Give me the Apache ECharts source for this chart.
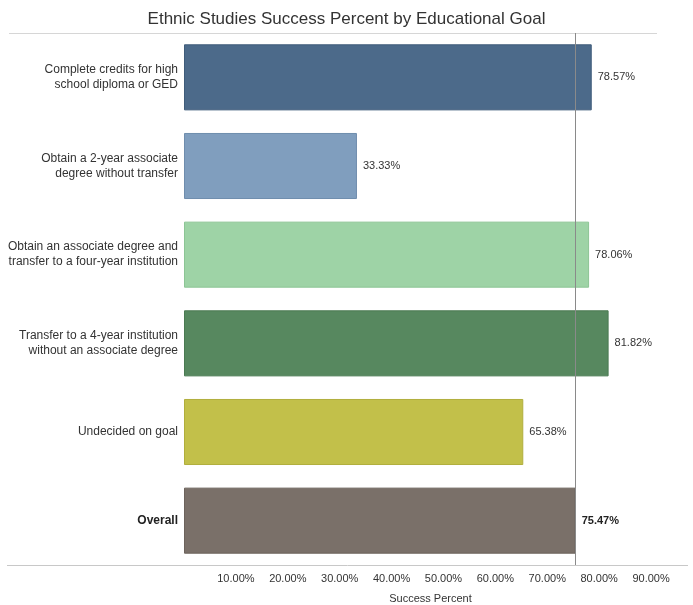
<!DOCTYPE html>
<html>
<head>
<meta charset="utf-8">
<script src="https://cdn.jsdelivr.net/npm/echarts@6/dist/echarts.min.js"></script>
<style>
  html, body { margin: 0; padding: 0; background: #ffffff; }
  #chart { width: 693px; height: 605px; }
</style>
</head>
<body>
<div id="chart"></div>
<script>
// Educational goals (row labels) and their success rates in percent
const goals = [
  'Complete credits for high\nschool diploma or GED',
  'Obtain a 2-year associate\ndegree without transfer',
  'Obtain an associate degree and\ntransfer to a four-year institution',
  'Transfer to a 4-year institution\nwithout an associate degree',
  'Undecided on goal',
  'Overall'
];
const successPercent = [78.57, 33.33, 78.06, 81.82, 65.38, 75.47];
const barColors = ['#4c6a8a', '#809ebe', '#9ed3a6', '#57885f', '#c2c04a', '#7a7069'];
const borderColors = ['#3f5c7a', '#6f8dad', '#8cc595', '#4a7a52', '#b0ae3c', '#6c635c'];
const tickValues = [10, 20, 30, 40, 50, 60, 70, 80, 90];
const overallValue = successPercent[successPercent.length - 1];

const chart = echarts.init(document.getElementById('chart'));
const font = 'Liberation Sans, Arial, sans-serif';

chart.setOption({
  backgroundColor: '#ffffff',
  animation: false,
  title: {
    text: 'Ethnic Studies Success Percent by Educational Goal',
    left: 'center',
    top: 6,
    textStyle: { fontFamily: font, fontSize: 17, fontWeight: 'normal', color: '#333333' }
  },
  grid: { left: 184, right: 16, top: 33, height: 532, containLabel: false, outerBoundsMode: 'none' },
  xAxis: {
    type: 'value',
    min: 0,
    max: 95,
    interval: 10,
    name: 'Success Percent',
    nameLocation: 'middle',
    nameGap: 28,
    nameTextStyle: { fontFamily: font, fontSize: 11, color: '#333333' },
    axisLine: { show: false },
    axisTick: { show: false },
    splitLine: { show: false },
    axisLabel: {
      fontFamily: font,
      fontSize: 11,
      color: '#333333',
      margin: 8,
      formatter: v => (tickValues.indexOf(v) >= 0 ? v.toFixed(2) + '%' : '')
    }
  },
  yAxis: {
    type: 'category',
    data: goals,
    inverse: true,
    axisLine: { show: false },
    axisTick: { show: false },
    axisLabel: {
      fontFamily: font,
      fontSize: 12,
      lineHeight: 15,
      color: '#333333',
      margin: 6,
      formatter: v => (v === 'Overall' ? '{b|' + v + '}' : v),
      rich: { b: { fontFamily: font, fontSize: 12, fontWeight: 'bold', color: '#222222' } }
    }
  },
  series: [{
    type: 'bar',
    barCategoryGap: '25.5%',
    data: successPercent.map((v, i) => ({
      value: v,
      itemStyle: { color: barColors[i], borderColor: borderColors[i], borderWidth: 1 },
      label: i === successPercent.length - 1 ? { fontWeight: 'bold', color: '#222222' } : {}
    })),
    label: {
      show: true,
      position: 'right',
      distance: 6,
      fontFamily: font,
      fontSize: 11,
      color: '#333333',
      formatter: p => p.value.toFixed(2) + '%'
    },
    markLine: {
      symbol: 'none',
      silent: true,
      label: { show: false },
      lineStyle: { color: '#8a8a8a', width: 1, type: 'solid' },
      data: [{ xAxis: overallValue }]
    },
    z: 2
  }],
  graphic: [
    // frame line under the title
    { type: 'line', shape: { x1: 9, y1: 33.5, x2: 657, y2: 33.5 },
      style: { stroke: '#d6d6d6', lineWidth: 1 }, silent: true },
    // baseline of the value axis
    { type: 'line', shape: { x1: 7, y1: 565.5, x2: 688, y2: 565.5 },
      style: { stroke: '#c8c8c8', lineWidth: 1 }, silent: true }
  ]
});
</script>
</body>
</html>
